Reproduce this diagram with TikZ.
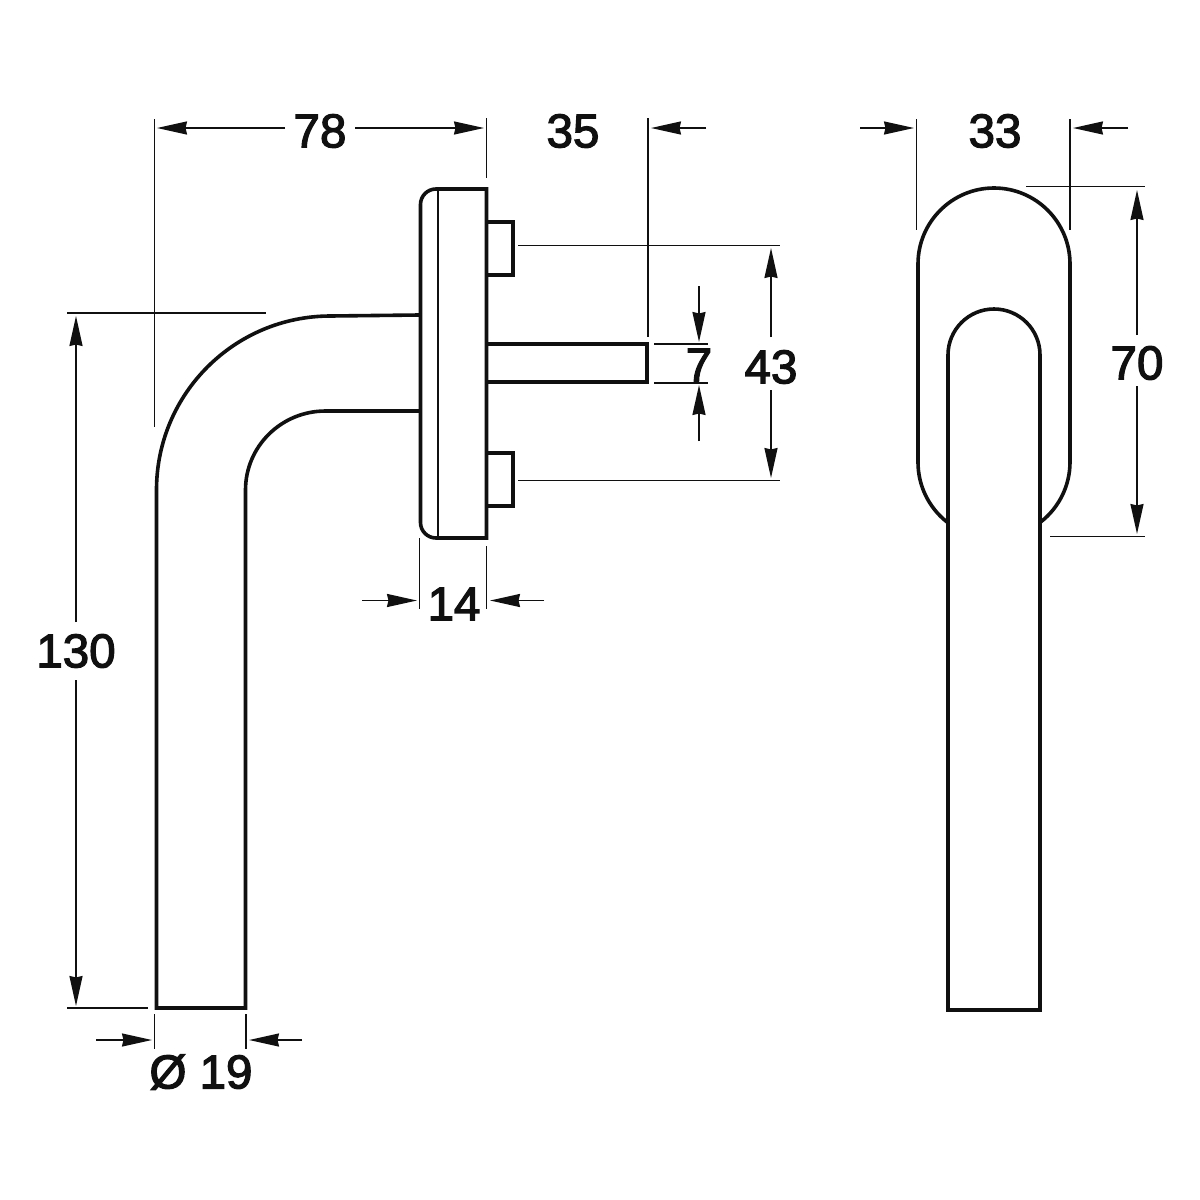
\documentclass[tikz,border=0pt]{standalone}
\usepackage{fontspec}
\usetikzlibrary{arrows.meta}
\newfontfamily\dimfont[RawFeature={embolden=2.6}]{Liberation Sans}
\definecolor{ink}{HTML}{101010}
\tikzset{
  outline/.style={draw=ink,line width=3.6pt,line join=miter},
  extline/.style={draw=ink,line width=1.8pt},
  dimarrow/.style={draw=ink,line width=1.8pt,-{Stealth[length=30pt,width=13pt,inset=1.5pt]}},
  dimtext/.style={font=\dimfont\fontsize{47.5}{47.5}\selectfont,text=ink,inner sep=0pt,anchor=center}
}
\begin{document}
\begin{tikzpicture}[x=1pt,y=-1pt]
\path[use as bounding box,fill=white] (0,0) rectangle (1200,1200);

% side view: lever
\draw[outline] (419,315) -- (330.5,316) arc[start angle=90,end angle=180,x radius=174,y radius=-174] -- (156.5,1008) -- (245.5,1008) -- (245.5,490) arc[start angle=180,end angle=90,x radius=80,y radius=-79] -- (419,411);
% rose
\draw[outline] (486.5,189) -- (436,189) arc[start angle=90,end angle=180,x radius=15.5,y radius=-15.5] -- (420.5,522.5) arc[start angle=180,end angle=270,x radius=15.5,y radius=-15.5] -- (486.5,538) -- cycle;
\draw[extline] (438,189) -- (438,538);
% screws
\draw[outline] (486.5,222) -- (513,222) -- (513,275) -- (486.5,275);
\draw[outline] (486.5,453) -- (513,453) -- (513,506) -- (486.5,506);
% spindle
\draw[outline] (486.5,344) -- (647,344) -- (647,382) -- (486.5,382);

% front view
\draw[outline] (947,522) arc[start angle=231.8,end angle=180,x radius=76,y radius=-76] -- (918,264) arc[start angle=180,end angle=0,x radius=76,y radius=-76] -- (1070,462) arc[start angle=0,end angle=-51.8,x radius=76,y radius=-76];
\draw[outline] (948,1010) -- (948,355) arc[start angle=180,end angle=0,x radius=46,y radius=-46] -- (1040,1010) -- cycle;

% extension lines
\draw[extline] (154.5,119) -- (154.5,427);
\draw[extline] (486.5,118) -- (486.5,178);
\draw[extline] (648,118) -- (648,337);
\draw[extline] (67,313) -- (266,313);
\draw[extline] (67,1008) -- (148,1008);
\draw[extline] (154.5,1014) -- (154.5,1049);
\draw[extline] (246,1014) -- (246,1049);
\draw[extline] (419.5,538) -- (419.5,609);
\draw[extline] (486.5,546) -- (486.5,609);
\draw[extline] (518,245.5) -- (780,245.5);
\draw[extline] (518,480.5) -- (780,480.5);
\draw[extline] (654,344) -- (708,344);
\draw[extline] (654,383) -- (708,383);
\draw[extline] (916.5,119) -- (916.5,230);
\draw[extline] (1070,119) -- (1070,230);
\draw[extline] (1026,186.5) -- (1145,186.5);
\draw[extline] (1050,536.5) -- (1145,536.5);

% labels
\node[dimtext] (d78) at (320,131) {78};
\node[dimtext] (d35) at (573,131) {35};
\node[dimtext] (d33) at (995,131) {33};
\node[dimtext] (d130) at (76,651) {130};
\node[dimtext] (d19) at (201,1072) {Ø 19};
\node[dimtext] (d14) at (454,604) {14};
\node[dimtext] (d7) at (699,365) {7};
\node[dimtext] (d43) at (771,367) {43};
\node[dimtext] (d70) at (1137,363) {70};

% dimension arrows
\draw[dimarrow] (285,128) -- (157,128);
\draw[dimarrow] (355,128) -- (484,128);
\draw[dimarrow] (706,128) -- (651,128);
\draw[dimarrow] (860,128) -- (914,128);
\draw[dimarrow] (1128,128) -- (1073,128);
\draw[dimarrow] (76,622) -- (76,316);
\draw[dimarrow] (76,680) -- (76,1006);
\draw[dimarrow] (96,1040) -- (152,1040);
\draw[dimarrow] (302,1040) -- (249,1040);
\draw[dimarrow] (362,600.5) -- (417,600.5);
\draw[dimarrow] (544,600.5) -- (490,600.5);
\draw[dimarrow] (699,286) -- (699,342);
\draw[dimarrow] (699,441) -- (699,385);
\draw[dimarrow] (771,337) -- (771,248);
\draw[dimarrow] (771,390) -- (771,478);
\draw[dimarrow] (1137,335) -- (1137,190);
\draw[dimarrow] (1137,386) -- (1137,534);
\end{tikzpicture}
\end{document}
